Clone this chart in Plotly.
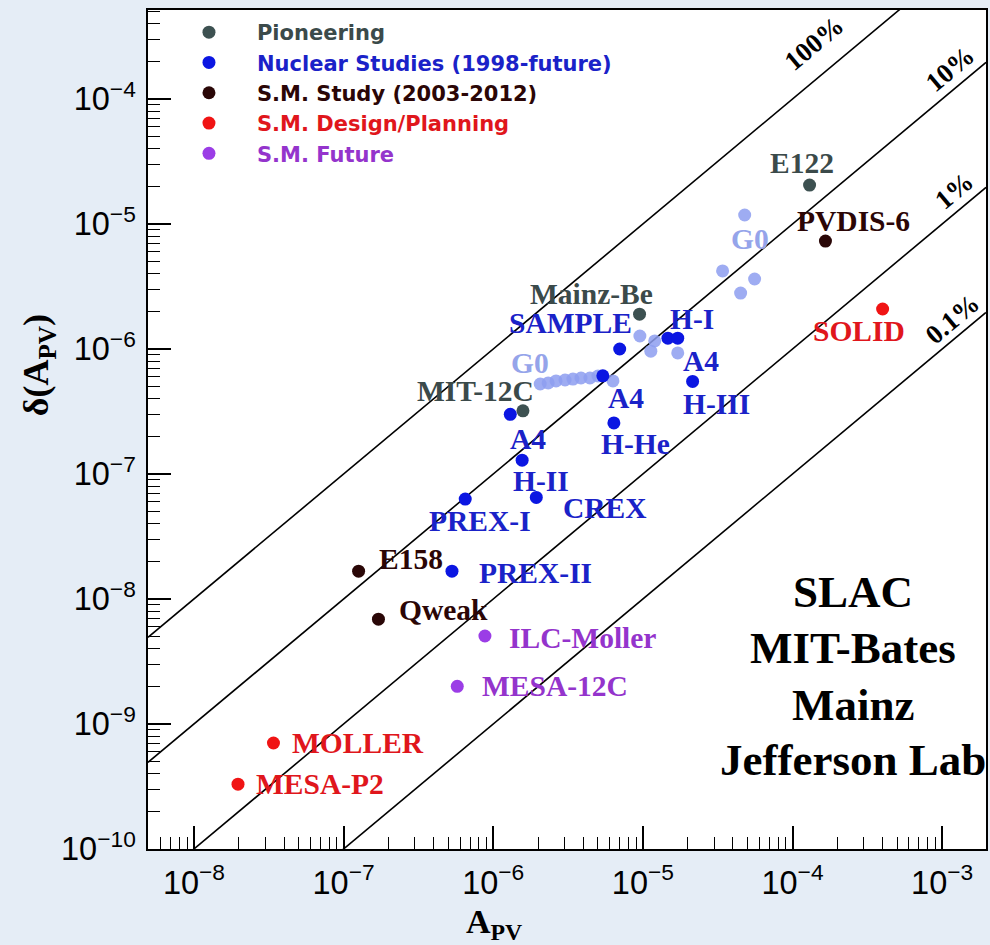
import math
import plotly.graph_objects as go

# ---------------- data ----------------
pioneer_A = [1.3e-4, 9.5e-6, 1.58e-6]          # E122, Mainz-Be, MIT-12C
pioneer_d = [2.05e-5, 1.9e-6, 3.2e-7]

nuclear_A = [7.0e-6, 1.47e-5, 1.71e-5, 5.4e-6, 2.15e-5, 6.4e-6,
             1.30e-6, 1.56e-6, 1.94e-6, 6.5e-7, 5.3e-7]
nuclear_d = [1.0e-6, 1.22e-6, 1.22e-6, 6.1e-7, 5.5e-7, 2.56e-7,
             3.0e-7, 1.29e-7, 6.5e-8, 6.3e-8, 1.67e-8]

g0_A = [4.79e-5, 3.41e-5, 5.58e-5, 4.5e-5, 9.55e-6, 1.2e-5, 1.13e-5, 1.71e-5,
        2.06e-6, 2.33e-6, 2.63e-6, 3.02e-6, 3.41e-6, 3.86e-6, 4.43e-6, 5.01e-6, 6.31e-6]
g0_d = [1.18e-5, 4.21e-6, 3.63e-6, 2.8e-6, 1.27e-6, 1.16e-6, 9.6e-7, 9.3e-7,
        5.25e-7, 5.35e-7, 5.55e-7, 5.65e-7, 5.75e-7, 5.86e-7, 5.86e-7, 6.08e-7, 5.55e-7]

smstudy_A = [1.66e-4, 1.26e-7, 1.71e-7]         # PVDIS-6, E158, Qweak
smstudy_d = [7.3e-6, 1.67e-8, 6.9e-9]

smdesign_A = [4.0e-4, 3.4e-8, 1.97e-8]          # SOLID, MOLLER, MESA-P2
smdesign_d = [2.09e-6, 7.05e-10, 3.3e-10]

smfuture_A = [8.8e-7, 5.75e-7]                  # ILC-Moller, MESA-12C
smfuture_d = [5.06e-9, 2.0e-9]

series_names = ["Pioneering", "Nuclear Studies (1998-future)", "S.M. Study (2003-2012)",
                "S.M. Design/Planning", "S.M. Future"]

# experiment labels (text, A, delta, group)
label_text = ["E122", "PVDIS-6", "G0", "Mainz-Be", "SAMPLE", "H-I", "G0", "A4",
              "MIT-12C", "A4", "H-III", "A4", "H-He", "H-II", "CREX", "PREX-I",
              "E158", "PREX-II", "Qweak", "ILC-Moller", "MESA-12C", "SOLID",
              "MOLLER", "MESA-P2"]
label_A = [1.15e-4, 2.55e-4, 5.16e-5, 4.57e-6, 3.26e-6, 2.12e-5, 1.77e-6, 2.44e-5,
           7.59e-7, 7.71e-6, 3.11e-5, 1.71e-6, 8.97e-6, 2.09e-6, 5.58e-6, 8.18e-7,
           2.80e-7, 1.91e-6, 4.65e-7, 3.98e-6, 2.59e-6, 2.80e-4,
           1.24e-7, 6.92e-8]
label_d = [3.08e-5, 1.06e-5, 7.59e-6, 2.75e-6, 1.61e-6, 1.74e-6, 7.73e-7, 8.02e-7,
           4.61e-7, 4.06e-7, 3.63e-7, 1.91e-7, 1.74e-7, 8.79e-8, 5.35e-8, 4.21e-8,
           2.09e-8, 1.61e-8, 8.17e-9, 4.88e-9, 2.01e-9, 1.39e-6,
           7.05e-10, 3.31e-10]
label_group = ["pio", "stu", "g0", "pio", "nuc", "nuc", "g0", "nuc",
               "pio", "nuc", "nuc", "nuc", "nuc", "nuc", "nuc", "nuc",
               "stu", "nuc", "stu", "fut", "fut", "des",
               "des", "des"]

# constant relative-precision lines
pct_frac = [1.0, 0.1, 0.01, 0.001]
pct_text = ["100%", "10%", "1%", "0.1%"]
pct_label_A = [1.40e-4, 1.13e-3, 1.20e-3, 1.17e-3]
pct_label_d = [2.81e-4, 1.74e-4, 1.84e-5, 1.74e-6]

labs = ["SLAC", "MIT-Bates", "Mainz", "Jefferson Lab"]

# ---------------- styles / layout ----------------
marker_col = {"pio": "#3d5151", "nuc": "#0b16e2", "stu": "#2a0707",
              "des": "#f01414", "fut": "#9b3de6", "g0": "#8d9df0"}
text_col = {"pio": "#3b4a4a", "nuc": "#1a22c8", "stu": "#2b0606",
            "des": "#e0161c", "fut": "#9434cc", "g0": "#95a4ea"}

X_RANGE = [-8.307, -2.707]
Y_RANGE = [-10.0, -3.288]
W, H = 990, 945
ML, MR, MT, MB = 148, 2, 10, 96
PW, PH = W - ML - MR, H - MT - MB


def paper_x(px):
    return (px - ML) / PW


def paper_y(py):
    return (H - MB - py) / PH


fig = go.Figure()

# diagonal lines
xa = [10 ** X_RANGE[0], 10 ** X_RANGE[1]]
for f in pct_frac:
    fig.add_trace(go.Scatter(x=xa, y=[f * v for v in xa], mode="lines",
                             line=dict(color="black", width=1.6),
                             showlegend=False, hoverinfo="skip"))

MS = 13
fig.add_trace(go.Scatter(x=g0_A, y=g0_d, mode="markers",
                         marker=dict(size=MS, color=marker_col["g0"], opacity=0.85),
                         showlegend=False))

series = [(pioneer_A, pioneer_d, "pio"), (nuclear_A, nuclear_d, "nuc"),
          (smstudy_A, smstudy_d, "stu"), (smdesign_A, smdesign_d, "des"),
          (smfuture_A, smfuture_d, "fut")]
for (xs, ys, key), nm in zip(series, series_names):
    fig.add_trace(go.Scatter(
        x=xs, y=ys, mode="markers", legendgroup=key,
        marker=dict(size=MS, color=marker_col[key]),
        name="<span style='color:%s'>%s</span>" % (text_col[key], nm)))

ann = []
for t, a, d, g in zip(label_text, label_A, label_d, label_group):
    ann.append(dict(x=math.log10(a), y=math.log10(d), xref="x", yref="y", text=t,
                    showarrow=False, xanchor="center", yanchor="middle",
                    font=dict(family="Liberation Serif", size=29.5, color=text_col[g],
                              weight="bold")))
for t, a, d in zip(pct_text, pct_label_A, pct_label_d):
    ann.append(dict(x=math.log10(a), y=math.log10(d), xref="x", yref="y", text=t,
                    showarrow=False, textangle=-40, xanchor="center", yanchor="middle",
                    font=dict(family="Liberation Serif", size=27, color="black",
                              weight="bold")))
lab_y = [592, 648, 705, 760]
for t, yy in zip(labs, lab_y):
    ann.append(dict(x=paper_x(855), y=paper_y(yy), xref="paper", yref="paper", text=t,
                    showarrow=False, xanchor="center", yanchor="middle",
                    font=dict(family="Liberation Serif", size=45, color="black",
                              weight="bold")))
# axis titles
ann.append(dict(x=paper_x(38), y=paper_y(365), xref="paper", yref="paper",
                text="δ(A<sub>PV</sub>)", textangle=-90, showarrow=False,
                xanchor="center", yanchor="middle",
                font=dict(family="Liberation Serif", size=36, color="black", weight="bold")))
ann.append(dict(x=paper_x(495), y=paper_y(924), xref="paper", yref="paper",
                text="A<sub>PV</sub>", showarrow=False, xanchor="center", yanchor="middle",
                font=dict(family="Liberation Serif", size=34, color="black", weight="bold")))

axis_common = dict(type="log", showgrid=False, zeroline=False, showline=True,
                   linecolor="black", linewidth=2, mirror=True,
                   ticks="inside", ticklen=23, tickwidth=1.5, tickcolor="black",
                   exponentformat="power", tickmode="linear", tick0=0, dtick=1,
                   tickfont=dict(family="Liberation Sans", size=26, color="black"),
                   minor=dict(ticks="inside", ticklen=12, tickwidth=1.2,
                              tickcolor="black", dtick="D1", showgrid=False))

fig.update_xaxes(range=X_RANGE, ticklabelstandoff=5, **axis_common)
fig.update_yaxes(range=Y_RANGE, ticklabelstandoff=5, **axis_common)

fig.update_layout(
    width=W, height=H,
    margin=dict(l=ML, r=MR, t=MT, b=MB),
    paper_bgcolor="#e5edf6", plot_bgcolor="white",
    annotations=ann,
    legend=dict(x=paper_x(161), y=paper_y(12), xanchor="left", yanchor="top",
                bgcolor="rgba(0,0,0,0)", itemwidth=86, tracegroupgap=0,
                font=dict(family="DejaVu Sans", size=21, weight="bold")),
)

fig.write_html("out.html")
